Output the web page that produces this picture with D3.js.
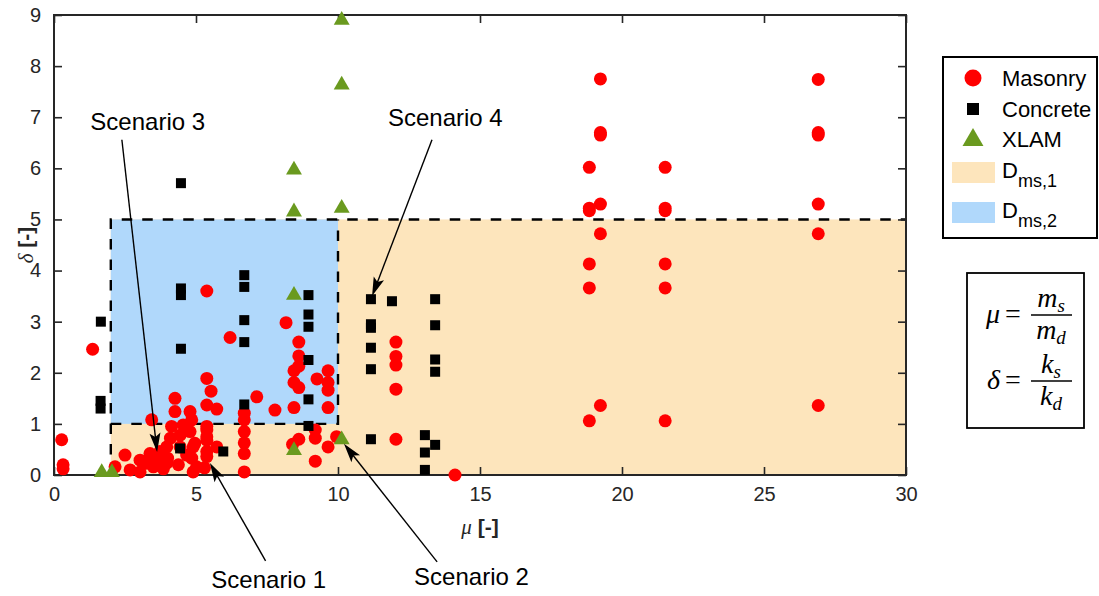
<!DOCTYPE html>
<html>
<head>
<meta charset="utf-8">
<script src="https://cdn.jsdelivr.net/npm/d3@7"></script>
<style>
  html, body { margin: 0; padding: 0; background: #fff; }
  svg { display: block; }
  text { font-family: "Liberation Sans", Arial, Helvetica, sans-serif; }
</style>
</head>
<body>
<svg id="chart" width="1099" height="596"></svg>
<script>
// ---------------- DATA ----------------
const xTickValues = [0, 5, 10, 15, 20, 25, 30];
const yTickValues = [0, 1, 2, 3, 4, 5, 6, 7, 8, 9];

// Masonry [mu, delta]
const masonryMu = [
  0.27, 0.32, 0.32, 1.36,
  2.15, 2.5, 2.68, 3.03, 3.03, 3.26, 3.38, 3.44, 3.5, 3.6, 3.73, 3.97, 3.97, 4.0,
  4.14, 4.26, 4.26, 4.38, 4.44, 4.44, 4.67, 4.79, 4.85, 4.79, 4.9, 5.02, 4.85, 4.96, 4.9, 4.1, 3.85, 4.55,
  5.38, 5.38, 5.38, 5.38, 5.38, 5.38, 5.38, 5.38, 5.53, 5.73, 5.73, 5.3,
  6.7, 6.7, 6.7, 6.7, 6.7, 6.7,
  5.38, 6.2, 7.14, 7.78, 8.17, 8.62, 8.62, 8.62, 8.45, 8.45, 8.62, 8.45,
  9.65, 9.26, 9.65, 9.65, 9.65, 8.62, 8.4, 9.2, 9.2, 9.65, 9.2, 9.95,
  12.04, 12.04, 12.04, 12.04, 12.04, 14.12,
  18.85, 18.85, 18.85, 18.85, 18.85, 18.85,
  19.24, 19.24, 19.24, 19.24, 19.24, 19.24,
  21.52, 21.52, 21.52, 21.52, 21.52, 21.52,
  26.91, 26.91, 26.91, 26.91, 26.91, 26.91
];
const masonryDelta = [
  0.69, 0.2, 0.12, 2.46,
  0.16, 0.39, 0.10, 0.29, 0.06, 0.23, 0.42, 1.08, 0.16, 0.29, 0.46, 0.55, 0.23, 0.33,
  0.95, 1.50, 1.24, 0.2, 0.78, 0.55, 0.39, 1.24, 1.08, 0.85, 0.55, 0.16, 0.33, 0.62, 0.06, 0.72, 0.12, 0.98,
  1.89, 1.37, 0.95, 0.88, 0.75, 0.68, 0.46, 0.36, 1.64, 1.29, 0.55, 0.14,
  1.21, 1.08, 0.85, 0.63, 0.42, 0.06,
  3.60, 2.69, 1.53, 1.27, 2.98, 2.60, 2.33, 2.13, 2.04, 1.81, 1.71, 1.32,
  2.04, 1.88, 1.81, 1.66, 1.32, 0.70, 0.60, 0.88, 0.72, 0.55, 0.27, 0.75,
  2.60, 2.32, 2.15, 1.68, 0.70, 0.0,
  6.02, 5.17, 5.22, 4.13, 3.66, 1.06,
  7.75, 6.65, 6.70, 5.30, 4.72, 1.36,
  6.02, 5.17, 5.22, 4.13, 3.66, 1.06,
  7.74, 6.65, 6.70, 5.30, 4.72, 1.36
];

// Concrete [mu, delta]
const concreteMu = [
  1.64, 1.64, 1.65, 4.47, 4.47, 4.47, 4.47, 4.44, 5.96,
  6.70, 6.70, 6.70, 6.70, 6.70,
  8.96, 8.96, 8.96, 8.96, 8.96, 8.96,
  11.16, 11.16, 11.16, 11.16, 11.16, 11.16, 11.9,
  13.42, 13.42, 13.42, 13.42, 13.42, 13.06, 13.06, 13.06
];
const concreteDelta = [
  1.30, 1.45, 3.0, 3.52, 3.65, 2.47, 5.71, 0.52, 0.46,
  3.91, 3.68, 3.03, 2.60, 1.38,
  3.52, 3.14, 2.90, 2.25, 1.48, 0.96,
  3.44, 2.95, 2.88, 2.49, 2.07, 0.70, 3.40,
  3.44, 2.93, 2.26, 2.02, 0.59, 0.78, 0.44, 0.10
];

// XLAM [mu, delta]
const xlamMu = [10.13, 10.13, 8.45, 8.45, 10.13, 8.45, 8.45, 10.13, 1.68, 2.04];
const xlamDelta = [8.9, 7.63, 5.97, 5.15, 5.22, 3.52, 0.48, 0.69, 0.05, 0.05];

// Domains [mu0, mu1, delta0, delta1]
const domainNames = ["D_ms,1", "D_ms,2"];
const domainMu = [[2, 30], [2, 10]];
const domainDelta = [[0, 5], [1, 5]];

// Annotations: label, text anchor (mu, delta), tail (mu, delta), tip (mu, delta)
const annLabels = ["Scenario 1", "Scenario 2", "Scenario 3", "Scenario 4"];
const annTextMu = [7.56, 14.70, 3.30, 13.78];
const annTextDelta = [-2.22, -2.15, 6.75, 6.82];
const annTailMu = [7.45, 13.49, 2.39, 13.31];
const annTailDelta = [-1.68, -1.70, 6.56, 6.56];
const annTipMu = [5.49, 10.21, 3.63, 11.20];
const annTipDelta = [0.235, 0.61, 0.45, 3.50];

// ---------------- CHART ----------------
const svg = d3.select("#chart");
const x = d3.scaleLinear().domain([0, 30]).range([54, 906]);
const y = d3.scaleLinear().domain([0, 9]).range([475, 15]);

const axisColor = "#262626";
const colOrange = "#fde5bc";
const colBlue = "#b0d8fb";
const colRed = "#ff0000";
const colGreen = "#6a9a1f";

// domains
const domainColors = [colOrange, colBlue];
svg.append("g").selectAll("rect").data(domainNames).join("rect")
  .attr("x", (d, i) => x(domainMu[i][0]))
  .attr("y", (d, i) => y(domainDelta[i][1]))
  .attr("width", (d, i) => x(domainMu[i][1]) - x(domainMu[i][0]))
  .attr("height", (d, i) => y(domainDelta[i][0]) - y(domainDelta[i][1]))
  .attr("fill", (d, i) => domainColors[i]);

// dashed boundaries
const line = d3.line().x(d => x(d[0])).y(d => y(d[1]));
const dashPaths = [
  [[domainMu[0][0], domainDelta[0][0]], [domainMu[0][0], domainDelta[0][1]], [domainMu[0][1], domainDelta[0][1]]],
  [[domainMu[1][0], domainDelta[1][0]], [domainMu[1][1], domainDelta[1][0]], [domainMu[1][1], domainDelta[1][1]]]
];
svg.append("g").selectAll("path").data(dashPaths).join("path")
  .attr("d", line).attr("fill", "none").attr("stroke", "#000")
  .attr("stroke-width", 2.4).attr("stroke-dasharray", "10.5,10");

// axes box
const axG = svg.append("g");
axG.append("rect").attr("x", x(0)).attr("y", y(9))
  .attr("width", x(30) - x(0)).attr("height", y(0) - y(9))
  .attr("fill", "none").attr("stroke", axisColor).attr("stroke-width", 2);

const xAxisB = d3.axisBottom(x).tickValues(xTickValues).tickSizeInner(-8).tickSizeOuter(0).tickPadding(12);
const xAxisT = d3.axisTop(x).tickValues(xTickValues).tickSizeInner(-8).tickSizeOuter(0).tickFormat("");
const yAxisL = d3.axisLeft(y).tickValues(yTickValues).tickSizeInner(-8).tickSizeOuter(0).tickPadding(13);
const yAxisR = d3.axisRight(y).tickValues(yTickValues).tickSizeInner(-8).tickSizeOuter(0).tickFormat("");

function styleAxis(g) {
  g.select(".domain").remove();
  g.selectAll(".tick line").attr("stroke", axisColor).attr("stroke-width", 1.6);
  g.selectAll(".tick text").attr("fill", axisColor)
    .style("font-family", '"Liberation Sans", Arial, sans-serif').style("font-size", "20px");
}
axG.append("g").attr("transform", `translate(0,${y(0)})`).call(xAxisB).call(styleAxis);
axG.append("g").attr("transform", `translate(0,${y(9)})`).call(xAxisT).call(styleAxis);
axG.append("g").attr("transform", `translate(${x(0)},0)`).call(yAxisL).call(styleAxis);
axG.append("g").attr("transform", `translate(${x(30)},0)`).call(yAxisR).call(styleAxis);

// axis labels
const xl = svg.append("text").attr("x", x(15)).attr("y", 534).attr("text-anchor", "middle")
  .attr("fill", axisColor).style("font-size", "21px");
xl.append("tspan").text("μ").style("font-family", '"Liberation Serif", serif').style("font-style", "italic");
xl.append("tspan").text(" [-]").style("font-weight", "bold");

const yl = svg.append("text").attr("transform", `translate(33,${y(4.5)}) rotate(-90)`).attr("text-anchor", "middle")
  .attr("fill", axisColor).style("font-size", "21px");
yl.append("tspan").text("δ").style("font-family", '"Liberation Serif", serif').style("font-style", "italic");
yl.append("tspan").text(" [-]").style("font-weight", "bold");

// markers
const masonry = masonryMu.map((m, i) => [m, masonryDelta[i]]);
const concrete = concreteMu.map((m, i) => [m, concreteDelta[i]]);
const xlam = xlamMu.map((m, i) => [m, xlamDelta[i]]);

svg.append("g").selectAll("circle").data(masonry).join("circle")
  .attr("cx", d => x(d[0])).attr("cy", d => y(d[1])).attr("r", 6.5).attr("fill", colRed);

const sq = 10;
svg.append("g").selectAll("rect").data(concrete).join("rect")
  .attr("x", d => x(d[0]) - sq / 2).attr("y", d => y(d[1]) - sq / 2)
  .attr("width", sq).attr("height", sq).attr("fill", "#000");

const tri = d3.symbol().type(d3.symbolTriangle).size(110);
svg.append("g").selectAll("path").data(xlam).join("path")
  .attr("transform", d => `translate(${x(d[0])},${y(d[1])})`)
  .attr("d", tri).attr("fill", colGreen);

// annotations
const annG = svg.append("g");
annLabels.forEach((lab, i) => {
  const x0 = x(annTailMu[i]), y0 = y(annTailDelta[i]);
  const x1 = x(annTipMu[i]), y1 = y(annTipDelta[i]);
  const ang = Math.atan2(y1 - y0, x1 - x0);
  const L = 15, W = 5.5;
  const bx = x1 - L * Math.cos(ang), by = y1 - L * Math.sin(ang);
  annG.append("line").attr("x1", x0).attr("y1", y0).attr("x2", bx + 3 * Math.cos(ang)).attr("y2", by + 3 * Math.sin(ang))
    .attr("stroke", "#000").attr("stroke-width", 1.4);
  const px = -Math.sin(ang), py = Math.cos(ang);
  const back = 4;
  annG.append("path")
    .attr("d", `M${x1},${y1} L${bx + W * px - back * Math.cos(ang)},${by + W * py - back * Math.sin(ang)} L${bx},${by} L${bx - W * px - back * Math.cos(ang)},${by - W * py - back * Math.sin(ang)} Z`)
    .attr("fill", "#000");
  annG.append("text").attr("x", x(annTextMu[i])).attr("y", y(annTextDelta[i]))
    .attr("text-anchor", "middle").attr("fill", "#000").style("font-size", "24px").text(lab);
});

// legend
const lg = svg.append("g");
lg.append("rect").attr("x", 943).attr("y", 57).attr("width", 154).attr("height", 181)
  .attr("fill", "#fff").attr("stroke", "#000").attr("stroke-width", 2);
const legendItems = ["Masonry", "Concrete", "XLAM"];
const legY = [78, 109, 139];
lg.append("circle").attr("cx", 973).attr("cy", legY[0]).attr("r", 8.5).attr("fill", colRed);
lg.append("rect").attr("x", 967).attr("y", legY[1] - 6).attr("width", 12).attr("height", 12).attr("fill", "#000");
lg.append("path").attr("transform", `translate(973,${legY[2] + 1})`).attr("d", d3.symbol().type(d3.symbolTriangle).size(190)).attr("fill", colGreen);
legendItems.forEach((t, i) => {
  lg.append("text").attr("x", 1002).attr("y", legY[i] + 8).style("font-size", "22px").attr("fill", "#000").text(t);
});
const patchY = [162, 202];
domainNames.forEach((n, i) => {
  lg.append("rect").attr("x", 952).attr("y", patchY[i]).attr("width", 43).attr("height", 21).attr("fill", domainColors[i]);
  const t = lg.append("text").attr("x", 1002).attr("y", patchY[i] + 16).attr("fill", "#000").style("font-size", "22px");
  const parts = n.split("_");
  t.append("tspan").text(parts[0]);
  t.append("tspan").attr("dy", 9).style("font-size", "18px").text(parts[1]);
});

// formula box
const fb = svg.append("g");
fb.append("rect").attr("x", 967).attr("y", 273).attr("width", 117).attr("height", 155)
  .attr("fill", "#fff").attr("stroke", "#000").attr("stroke-width", 1.8);
const serif = '"Liberation Serif", "DejaVu Serif", serif';
function fraction(cy, lhs, num, numSub, den, denSub) {
  fb.append("text").attr("x", 1000).attr("y", cy + 8).attr("text-anchor", "end")
    .style("font-family", serif).style("font-style", "italic").style("font-size", "28px").text(lhs);
  fb.append("text").attr("x", 1013).attr("y", cy + 8).attr("text-anchor", "middle")
    .style("font-family", serif).style("font-size", "28px").text("=");
  fb.append("line").attr("x1", 1031).attr("x2", 1072).attr("y1", cy).attr("y2", cy).attr("stroke", "#000").attr("stroke-width", 1.5);
  const n = fb.append("text").attr("x", 1051).attr("y", cy - 8).attr("text-anchor", "middle")
    .style("font-family", serif).style("font-style", "italic").style("font-size", "28px");
  n.append("tspan").text(num);
  n.append("tspan").attr("dy", 5).style("font-size", "19px").text(numSub);
  const d = fb.append("text").attr("x", 1051).attr("y", cy + 24).attr("text-anchor", "middle")
    .style("font-family", serif).style("font-style", "italic").style("font-size", "28px");
  d.append("tspan").text(den);
  d.append("tspan").attr("dy", 5).style("font-size", "19px").text(denSub);
}
fraction(315, "μ", "m", "s", "m", "d");
fraction(381, "δ", "k", "s", "k", "d");
</script>
</body>
</html>
